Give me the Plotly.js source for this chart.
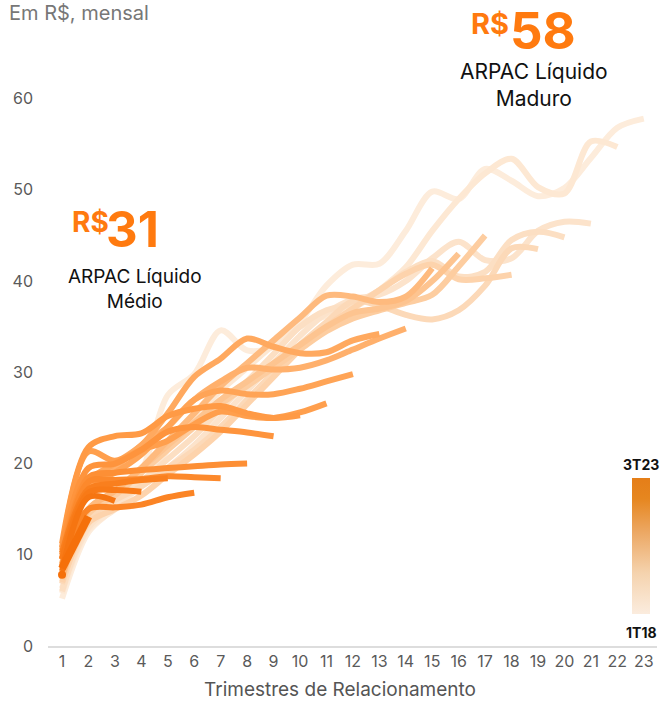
<!DOCTYPE html>
<html>
<head>
<meta charset="utf-8">
<script src="https://cdn.plot.ly/plotly-3.0.1.min.js"></script>
<style>
  html, body { margin: 0; padding: 0; background: #ffffff; }
  #chart { width: 671px; height: 709px; }
</style>
</head>
<body>
<div id="chart"></div>
<script>
// Net monthly ARPAC (R$) per customer cohort, by quarter of relationship
const quarters = [1, 2, 3, 4, 5, 6, 7, 8, 9, 10, 11, 12, 13, 14, 15, 16, 17, 18, 19, 20, 21, 22, 23];
const cohortLabels = ['1T18', '2T18', '3T18', '4T18', '1T19', '2T19', '3T19', '4T19',
  '1T20', '2T20', '3T20', '4T20', '1T21', '2T21', '3T21', '4T21',
  '1T22', '2T22', '3T22', '4T22', '1T23', '2T23', '3T23'];

const c1T18 = [5.2, 12.5, 15.2, 19.0, 27.5, 29.8, 34.6, 32.4, 32.8, 35.5, 39.5, 41.8, 41.9, 45.5, 49.8, 49.0, 52.3, 51.0, 49.3, 50.2, 53.5, 56.8, 57.8];
const c2T18 = [5.8, 12.8, 15.0, 17.8, 21.5, 25.0, 28.0, 30.5, 33.0, 35.0, 36.2, 37.0, 39.0, 41.5, 45.5, 49.0, 51.8, 53.4, 50.3, 49.6, 55.3, 54.7];
const c3T18 = [6.3, 13.0, 15.5, 17.5, 19.5, 22.0, 25.0, 28.0, 31.0, 34.0, 36.5, 38.0, 38.5, 40.0, 42.5, 44.3, 42.3, 42.5, 45.5, 46.5, 46.3];
const c4T18 = [6.0, 13.5, 16.0, 18.0, 20.5, 23.0, 26.0, 29.0, 32.0, 35.0, 36.8, 37.5, 39.0, 41.0, 42.2, 40.5, 41.0, 44.5, 45.4, 44.8];
const c1T19 = [6.8, 14.0, 16.0, 17.5, 19.5, 21.5, 24.0, 27.0, 30.0, 33.0, 35.5, 37.8, 37.3, 36.3, 35.8, 36.8, 39.5, 43.6, 43.5];
const c2T19 = [7.0, 13.5, 15.0, 16.5, 18.8, 21.0, 23.5, 26.5, 29.5, 32.5, 35.0, 37.0, 39.0, 40.8, 41.8, 40.2, 40.3, 40.7];
const c3T19 = [7.3, 14.5, 16.5, 19.0, 21.5, 24.0, 26.5, 28.5, 30.5, 32.5, 34.5, 35.9, 36.8, 37.6, 38.5, 41.6, 45.0];
const c4T19 = [7.8, 15.0, 17.0, 19.5, 22.0, 24.5, 27.0, 29.0, 31.0, 33.0, 35.0, 36.5, 37.0, 37.8, 40.0, 43.0];
const c1T20 = [7.5, 15.0, 17.0, 19.5, 22.5, 25.5, 28.5, 31.0, 33.5, 36.0, 38.4, 38.3, 37.7, 38.3, 41.4];
const c2T20 = [8.5, 17.0, 19.5, 22.0, 24.0, 27.0, 29.0, 30.5, 30.3, 30.5, 31.3, 32.5, 33.7, 34.8];
const c3T20 = [9.0, 18.0, 20.0, 22.0, 25.5, 29.5, 31.5, 33.7, 32.8, 32.1, 32.2, 33.5, 34.2];
const c4T20 = [9.5, 17.5, 19.0, 21.0, 24.0, 27.0, 28.0, 27.6, 27.6, 28.2, 29.0, 29.8];
const c1T21 = [10.5, 21.3, 20.3, 21.5, 22.5, 24.3, 25.7, 25.2, 25.0, 25.6, 26.6];
const c2T21 = [11.2, 21.8, 23.0, 23.3, 25.2, 26.0, 26.3, 25.5, 25.0, 25.3];
const c3T21 = [10.8, 19.5, 20.0, 21.5, 23.5, 24.0, 23.7, 23.4, 23.0];
const c4T21 = [10.0, 18.5, 19.0, 19.3, 19.5, 19.7, 19.9, 20.0];
const c1T22 = [9.6, 18.0, 18.2, 18.3, 18.6, 18.5, 18.4];
const c2T22 = [8.8, 15.0, 15.2, 15.5, 16.3, 16.8];
const c3T22 = [10.2, 17.2, 17.8, 18.2, 18.4];
const c4T22 = [9.5, 16.8, 17.1, 16.9];
const c1T23 = [8.2, 16.3, 15.9];
const c2T23 = [8.5, 14.2];
const c3T23 = [7.8];

const cohorts = [c1T18, c2T18, c3T18, c4T18, c1T19, c2T19, c3T19, c4T19,
  c1T20, c2T20, c3T20, c4T20, c1T21, c2T21, c3T21, c4T21,
  c1T22, c2T22, c3T22, c4T22, c1T23, c2T23, c3T23];

const yTicks = [0, 10, 20, 30, 40, 50, 60];

// Oldest cohorts pale peach, newest saturated orange
const lineStops = [
  [0.00, [253, 236, 219]],
  [0.15, [252, 222, 194]],
  [0.30, [253, 203, 156]],
  [0.45, [255, 172, 100]],
  [0.60, [255, 156, 72]],
  [0.80, [251, 133, 38]],
  [1.00, [245, 112, 10]]
];
function lineColor(t) {
  for (let i = 1; i < lineStops.length; i++) {
    if (t <= lineStops[i][0]) {
      const [t0, a] = lineStops[i - 1];
      const [t1, b] = lineStops[i];
      const f = (t - t0) / (t1 - t0);
      const c = a.map((v, j) => Math.round(v + (b[j] - v) * f));
      return `rgb(${c[0]},${c[1]},${c[2]})`;
    }
  }
  const c = lineStops[lineStops.length - 1][1];
  return `rgb(${c[0]},${c[1]},${c[2]})`;
}

const n = cohorts.length;
const traces = cohorts.map((vals, k) => {
  const t = Math.min(1, k / (n - 2));
  const single = vals.length === 1;
  return {
    type: 'scatter',
    mode: single ? 'markers' : 'lines',
    name: cohortLabels[k],
    x: quarters.slice(0, vals.length),
    y: vals,
    line: { color: lineColor(t), width: k >= n - 2 ? 8 : 6, shape: 'spline', smoothing: 0.9 },
    marker: { color: lineColor(t), size: 8 },
    hoverinfo: 'skip',
    showlegend: false
  };
});

// Cohort colour bar (1T18 bottom to 3T23 top)
traces.push({
  type: 'scatter',
  mode: 'markers',
  x: [null], y: [null],
  hoverinfo: 'skip',
  showlegend: false,
  marker: {
    color: [0, 1],
    cmin: 0, cmax: 1,
    colorscale: [[0, '#fbecde'], [0.3, '#f5d3ae'], [0.6, '#eca864'], [0.85, '#e6861f'], [1, '#e57e18']],
    showscale: true,
    colorbar: {
      x: 0.974, xanchor: 'center', xpad: 0,
      y: 0.169, yanchor: 'middle', ypad: 0,
      len: 136, lenmode: 'pixels',
      thickness: 18, thicknessmode: 'pixels',
      outlinewidth: 0,
      showticklabels: false,
      ticks: ''
    }
  }
});

const orange = '#ff7a0f';
const baseFont = 'Inter, "Open Sans", sans-serif';
const px = (x) => (x - 48) / 609;   // pixel column -> paper x
const py = (y) => (646 - y) / 593;  // pixel row -> paper y

const layout = {
  width: 671,
  height: 709,
  margin: { l: 48, r: 14, t: 53, b: 63 },
  paper_bgcolor: '#ffffff',
  plot_bgcolor: '#ffffff',
  showlegend: false,
  hovermode: false,
  font: { family: baseFont, color: '#555555' },
  xaxis: {
    range: [0.47, 23.5],
    tickmode: 'array',
    tickvals: quarters,
    ticktext: quarters.map(String),
    ticks: '',
    showgrid: false,
    zeroline: false,
    showline: true,
    linecolor: '#dddddd',
    linewidth: 2,
    tickfont: { size: 16, color: '#5a5a5a', family: baseFont }
  },
  yaxis: {
    range: [0, 65],
    tickmode: 'array',
    tickvals: yTicks,
    ticktext: yTicks.map(String),
    ticks: '',
    showgrid: false,
    zeroline: false,
    showline: false,
    ticklabelstandoff: 14,
    tickfont: { size: 16, color: '#5a5a5a', family: baseFont }
  },
  annotations: [
    { xref: 'paper', yref: 'paper', x: px(7), y: py(13), xanchor: 'left', yanchor: 'middle',
      text: 'Em R$, mensal', showarrow: false, font: { size: 20, color: '#777777', family: baseFont } },

    { xref: 'paper', yref: 'paper', x: px(340), y: py(689), xanchor: 'center', yanchor: 'middle',
      text: 'Trimestres de Relacionamento', showarrow: false, font: { size: 19, color: '#555555', family: baseFont } },

    { xref: 'paper', yref: 'paper', x: px(490), y: py(23), xanchor: 'center', yanchor: 'middle',
      text: '<b>R$</b>', showarrow: false, font: { size: 29, color: orange, family: baseFont } },
    { xref: 'paper', yref: 'paper', x: px(543), y: py(31), xanchor: 'center', yanchor: 'middle',
      text: '<b>58</b>', showarrow: false, font: { size: 51, color: orange, family: baseFont } },
    { xref: 'paper', yref: 'paper', x: px(534), y: py(85), xanchor: 'center', yanchor: 'middle',
      text: 'ARPAC Líquido<br>Maduro', showarrow: false, align: 'center',
      font: { size: 21, color: '#111111', family: baseFont } },

    { xref: 'paper', yref: 'paper', x: px(90), y: py(222), xanchor: 'center', yanchor: 'middle',
      text: '<b>R$</b>', showarrow: false, font: { size: 28, color: orange, family: baseFont } },
    { xref: 'paper', yref: 'paper', x: px(132), y: py(229), xanchor: 'center', yanchor: 'middle',
      text: '<b>31</b>', showarrow: false, font: { size: 49, color: orange, family: baseFont } },
    { xref: 'paper', yref: 'paper', x: px(135), y: py(289), xanchor: 'center', yanchor: 'middle',
      text: 'ARPAC Líquido<br>Médio', showarrow: false, align: 'center',
      font: { size: 19, color: '#111111', family: baseFont } },

    { xref: 'paper', yref: 'paper', x: 0.974, y: py(464), xanchor: 'center', yanchor: 'middle',
      text: '<b>3T23</b>', showarrow: false, font: { size: 14, color: '#111111', family: baseFont } },
    { xref: 'paper', yref: 'paper', x: 0.974, y: py(632), xanchor: 'center', yanchor: 'middle',
      text: '<b>1T18</b>', showarrow: false, font: { size: 14, color: '#111111', family: baseFont } }
  ]
};

Plotly.newPlot('chart', traces, layout, { displayModeBar: false, staticPlot: true });
</script>
</body>
</html>
